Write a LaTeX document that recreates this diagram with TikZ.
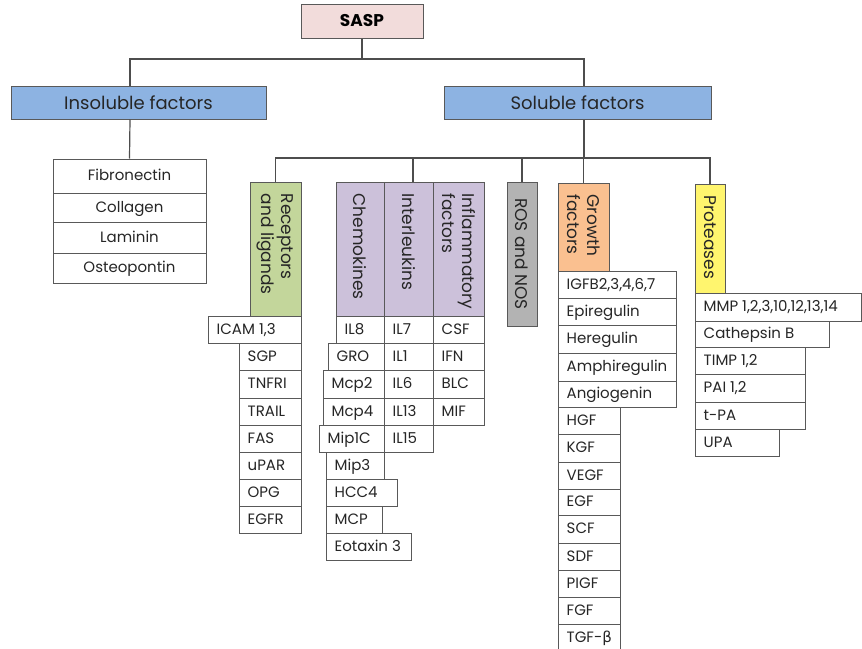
\documentclass[tikz,border=0pt]{standalone}
\usepackage{fontspec}
\setmainfont{Poppins}
\newfontfamily\gkfont{DejaVu Sans}
\definecolor{cpink}{HTML}{F2DCDB}
\definecolor{cblue}{HTML}{8DB3E2}
\definecolor{cgreen}{HTML}{C3D69B}
\definecolor{cpurple}{HTML}{CCC1DA}
\definecolor{cgray}{HTML}{B3B3B3}
\definecolor{corange}{HTML}{FAC090}
\definecolor{cyellow}{HTML}{FFF56E}
\definecolor{cline}{HTML}{4D4D4D}
\definecolor{cborder}{HTML}{595959}
\tikzset{
  box/.style={draw=cborder,line width=1pt,inner sep=0pt,anchor=center},
  lst/.style={box,fill=white},
  lbl/.style={anchor=west,inner sep=0pt,text height=12pt,text depth=2.5pt,
              font=\fontsize{15}{17}\selectfont,text=black!85},
  clbl/.style={lbl,anchor=center},
  vlbl/.style={rotate=-90,anchor=west,inner sep=0pt,align=left,
               font=\fontsize{17}{20}\selectfont,text=black!85},
  hdr/.style={font=\fontsize{18}{20}\selectfont,text=black!85},
  conn/.style={draw=cline,line width=1.2pt},
}
% name x1 y1 x2 y2 text (left-aligned list box)
\newcommand\lbx[6]{%
  \node[lst,minimum width={#4pt-#2pt},minimum height={#5pt-#3pt}] (#1) at ({(#2+#4)/2},{(#3+#5)/2}) {};
  \node[lbl] (#1t) at ([xshift=9pt]#1.west) {#6};}
% name x1 y1 x2 y2 text (centred list box)
\newcommand\cbx[6]{%
  \node[lst,minimum width={#4pt-#2pt},minimum height={#5pt-#3pt}] (#1) at ({(#2+#4)/2},{(#3+#5)/2}) {};
  \node[clbl] (#1t) at (#1.center) {#6};}
% name x1 y1 x2 y2 colour text (vertical category box)
\newcommand\vbx[7]{%
  \node[box,fill=#6,minimum width={#4pt-#2pt},minimum height={#5pt-#3pt}] (#1) at ({(#2+#4)/2},{(#3+#5)/2}) {};
  \node[vlbl] (#1t) at ([yshift=-12pt]#1.north) {#7};}
\begin{document}
\begin{tikzpicture}[x=1pt,y=-1pt]
\useasboundingbox (0,0) rectangle (862,648);

% top level
\node[box,fill=cpink,minimum width=122pt,minimum height=34pt,font=\fontsize{17}{19}\selectfont\bfseries] (sasp) at (362,21) {SASP};
\node[box,fill=cblue,minimum width=255pt,minimum height=33pt,hdr] (ins) at (138.5,102.5) {Insoluble factors};
\node[box,fill=cblue,minimum width=267pt,minimum height=33pt,hdr] (sol) at (577.5,102.5) {Soluble factors};

\coordinate (top) at (362,59);
\draw[conn] (sasp.south) -- (top);
\draw[conn] ([xshift=-8.5pt]ins.north) |- (top) -| ([xshift=6.5pt]sol.north);

% insoluble list
\cbx{fib}{53}{159}{206}{193}{Fibronectin}
\cbx{col}{53}{193}{206}{222}{Collagen}
\cbx{lam}{53}{222}{206}{253}{Laminin}
\cbx{ost}{53}{253}{206}{283}{Osteopontin}
\draw[conn] ([xshift=-8.5pt]ins.south) -- (fib.north);

% soluble categories
\vbx{rec}{250}{182}{301}{316}{cgreen}{Receptors\\and ligands}
\vbx{chem}{336}{182}{384}{316}{cpurple}{Chemokines}
\vbx{il}{384}{182}{433}{316}{cpurple}{Interleukins}
\vbx{inf}{433}{182}{484}{316}{cpurple}{Inflammatory\\factors}
\node[box,fill=cgray,minimum width=30pt,minimum height=144pt] (ros) at (522,254) {};
\node[vlbl,anchor=center] (rost) at (ros.center) {ROS and NOS};
\vbx{gf}{558}{183}{609}{271}{corange}{Growth\\factors}
\vbx{prot}{695}{184}{725}{293}{cyellow}{Proteases}

\coordinate (hub) at (584,158);
\draw[conn] ([xshift=6.5pt]sol.south) -- (hub);
\draw[conn] (rec.north) |- (hub) -| (prot.north);
\draw[conn] ([xshift=4.5pt]il.north) -- ([xshift=4.5pt]il.north |- hub);
\draw[conn] (ros.north) -- (ros.north |- hub);
\draw[conn] (gf.north) -- (gf.north |- hub);

% receptors and ligands
\lbx{icam}{208}{316}{301}{343}{ICAM 1,3}
\lbx{sgp}{239}{343}{301}{370}{SGP}
\lbx{tnfri}{239}{370}{301}{398}{TNFRI}
\lbx{trail}{239}{398}{301}{425}{TRAIL}
\lbx{fas}{239}{425}{301}{452}{FAS}
\lbx{upar}{239}{452}{301}{479}{uPAR}
\lbx{opg}{239}{479}{301}{506}{OPG}
\lbx{egfr}{239}{506}{301}{533}{EGFR}

% chemokines
\lbx{il8}{336}{316}{384}{343}{IL8}
\lbx{gro}{328}{343}{384}{370}{GRO}
\lbx{mcp2}{323}{370}{384}{398}{Mcp2}
\lbx{mcp4}{323}{398}{384}{425}{Mcp4}
\lbx{mip1c}{319}{425}{384}{452}{Mip1C}
\lbx{mip3}{326}{452}{384}{479}{Mip3}
\lbx{hcc4}{326}{479}{397}{506}{HCC4}
\lbx{mcp}{326}{506}{382}{533}{MCP}
\lbx{eot}{326}{533}{411}{560}{Eotaxin 3}

% interleukins
\lbx{il7}{384}{316}{433}{343}{IL7}
\lbx{il1}{384}{343}{433}{370}{IL1}
\lbx{il6}{384}{370}{433}{398}{IL6}
\lbx{il13}{384}{398}{433}{425}{IL13}
\lbx{il15}{384}{425}{433}{452}{IL15}

% inflammatory factors
\lbx{csf}{433}{316}{484}{343}{CSF}
\lbx{ifn}{433}{343}{484}{370}{IFN}
\lbx{blc}{433}{370}{484}{398}{BLC}
\lbx{mif}{433}{398}{484}{425}{MIF}

% growth factors
\lbx{igfb}{558}{271}{676}{298}{IGFB2,3,4,6,7}
\lbx{epi}{558}{298}{676}{325}{Epiregulin}
\lbx{her}{558}{325}{676}{353}{Heregulin}
\lbx{amp}{558}{353}{676}{381}{Amphiregulin}
\lbx{ang}{558}{381}{676}{407}{Angiogenin}
\lbx{hgf}{558}{407}{620}{434}{HGF}
\lbx{kgf}{558}{434}{620}{462}{KGF}
\lbx{vegf}{558}{462}{620}{489}{VEGF}
\lbx{egf}{558}{489}{620}{515}{EGF}
\lbx{scf}{558}{515}{620}{543}{SCF}
\lbx{sdf}{558}{543}{620}{570}{SDF}
\lbx{pigf}{558}{570}{620}{597}{PIGF}
\lbx{fgf}{558}{597}{620}{624}{FGF}
\lbx{tgf}{558}{624}{620}{651}{TGF-{\gkfont β}}

% proteases
\lbx{mmp}{695}{293}{861}{321}{MMP 1,2,3,10,12,13,14}
\lbx{cat}{695}{321}{829}{347}{Cathepsin B}
\lbx{timp}{695}{347}{805}{374}{TIMP 1,2}
\lbx{pai}{695}{374}{805}{402}{PAI 1,2}
\lbx{tpa}{695}{402}{805}{429}{t-PA}
\lbx{upa}{695}{429}{779}{456}{UPA}
\end{tikzpicture}
\end{document}
